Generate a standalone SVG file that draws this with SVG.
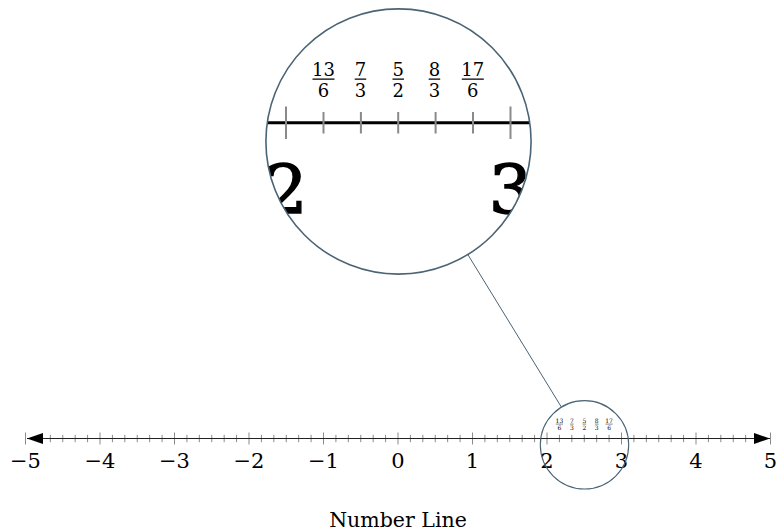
<svg xmlns="http://www.w3.org/2000/svg" width="778" height="531" viewBox="0 0 778 531">
<style>
.lbl{font-family:"DejaVu Serif","Liberation Serif",serif;fill:#000;text-anchor:middle}
.main{font-size:21px}
.big{font-size:68px;stroke:#000;stroke-width:1.4px}
.fb{font-size:18px}
.fs{font-size:6px}
.tick{stroke:#8a8a8a;fill:none}
.lens{fill:none;stroke:#4a6475}
</style>
<defs>
<clipPath id="bigclip"><circle cx="398.5" cy="141.5" r="132.6"/></clipPath>
</defs>
<rect width="778" height="531" fill="#fff"/>
<g id="numberline">
<path class="tick" stroke-width="1" d="M25.5 432.5V444.5M100 432.5V444.5M174.5 432.5V444.5M249 432.5V444.5M323.5 432.5V444.5M398 432.5V444.5M472.5 432.5V444.5M547 432.5V444.5M621.5 432.5V444.5M696 432.5V444.5M770.5 432.5V444.5"/>
<path class="tick" stroke-width="1" d="M37.92 434.8V442.2M50.33 434.8V442.2M62.75 434.8V442.2M75.17 434.8V442.2M87.58 434.8V442.2M112.42 434.8V442.2M124.83 434.8V442.2M137.25 434.8V442.2M149.67 434.8V442.2M162.08 434.8V442.2M186.92 434.8V442.2M199.33 434.8V442.2M211.75 434.8V442.2M224.17 434.8V442.2M236.58 434.8V442.2M261.42 434.8V442.2M273.83 434.8V442.2M286.25 434.8V442.2M298.67 434.8V442.2M311.08 434.8V442.2M335.92 434.8V442.2M348.33 434.8V442.2M360.75 434.8V442.2M373.17 434.8V442.2M385.58 434.8V442.2M410.42 434.8V442.2M422.83 434.8V442.2M435.25 434.8V442.2M447.67 434.8V442.2M460.08 434.8V442.2M484.92 434.8V442.2M497.33 434.8V442.2M509.75 434.8V442.2M522.17 434.8V442.2M534.58 434.8V442.2M559.42 434.8V442.2M571.83 434.8V442.2M584.25 434.8V442.2M596.67 434.8V442.2M609.08 434.8V442.2M633.92 434.8V442.2M646.33 434.8V442.2M658.75 434.8V442.2M671.17 434.8V442.2M683.58 434.8V442.2M708.42 434.8V442.2M720.83 434.8V442.2M733.25 434.8V442.2M745.67 434.8V442.2M758.08 434.8V442.2"/>
<line x1="27" y1="438.5" x2="770" y2="438.5" stroke="#222" stroke-width="1.1"/>
<path d="M27 438.5L43 433V444Z" fill="#000"/>
<path d="M770 438.5L754 433V444Z" fill="#000"/>
<g class="lbl main">
<text x="25.5" y="468">−5</text>
<text x="100" y="468">−4</text>
<text x="174.5" y="468">−3</text>
<text x="249" y="468">−2</text>
<text x="323.5" y="468">−1</text>
<text x="398" y="468">0</text>
<text x="472.5" y="468">1</text>
<text x="547" y="468">2</text>
<text x="621.5" y="468">3</text>
<text x="696" y="468">4</text>
<text x="770.5" y="468">5</text>
</g>
<g class="lbl fs">
<text x="559.4" y="423">13</text><text x="559.4" y="429.9">6</text>
<text x="571.8" y="423">7</text><text x="571.8" y="429.9">3</text>
<text x="584.3" y="423">5</text><text x="584.3" y="429.9">2</text>
<text x="596.7" y="423">8</text><text x="596.7" y="429.9">3</text>
<text x="609.1" y="423">17</text><text x="609.1" y="429.9">6</text>
</g>
<path stroke="#000" stroke-width="0.45" d="M555.75 424.1h7.3M569.9 424.1h3.8M582.4 424.1h3.8M594.8 424.1h3.8M605.45 424.1h7.3"/>
</g>
<g id="connectors">
<line x1="467.8" y1="254.5" x2="561.4" y2="407.1" stroke="#4a6475" stroke-width="1"/>
</g>
<g id="small-lens">
<circle class="lens" cx="584.5" cy="444.8" r="44.2" stroke-width="1.1"/>
</g>
<g id="big-lens">
<circle cx="398.5" cy="141.5" r="132.6" fill="#fff"/>
<g clip-path="url(#bigclip)">
<line x1="260" y1="122.7" x2="540" y2="122.7" stroke="#000" stroke-width="3"/>
<path class="tick" stroke-width="2" d="M286 106.5V139M510.5 106.5V139M323.5 111.9V133.5M360.9 111.9V133.5M398.2 111.9V133.5M435.6 111.9V133.5M473 111.9V133.5"/>
<g class="lbl big">
<text x="286" y="212.5">2</text>
<text x="510.5" y="212.5">3</text>
</g>
<g class="lbl fb">
<text x="323.5" y="76">13</text><text x="323.5" y="96.7">6</text>
<text x="360.5" y="76">7</text><text x="360.5" y="96.7">3</text>
<text x="398.3" y="76">5</text><text x="398.3" y="96.7">2</text>
<text x="434.5" y="76">8</text><text x="434.5" y="96.7">3</text>
<text x="472.8" y="76">17</text><text x="472.8" y="96.7">6</text>
</g>
<path stroke="#000" stroke-width="1.3" d="M312.5 79.2h22M354.7 79.2h11.5M392.5 79.2h11.5M428.7 79.2h11.5M461.8 79.2h22"/>
</g>
<circle class="lens" cx="398.5" cy="141.5" r="132.6" stroke-width="1.6"/>
</g>
<text class="lbl" x="398" y="527" font-size="20.5">Number Line</text>
</svg>
